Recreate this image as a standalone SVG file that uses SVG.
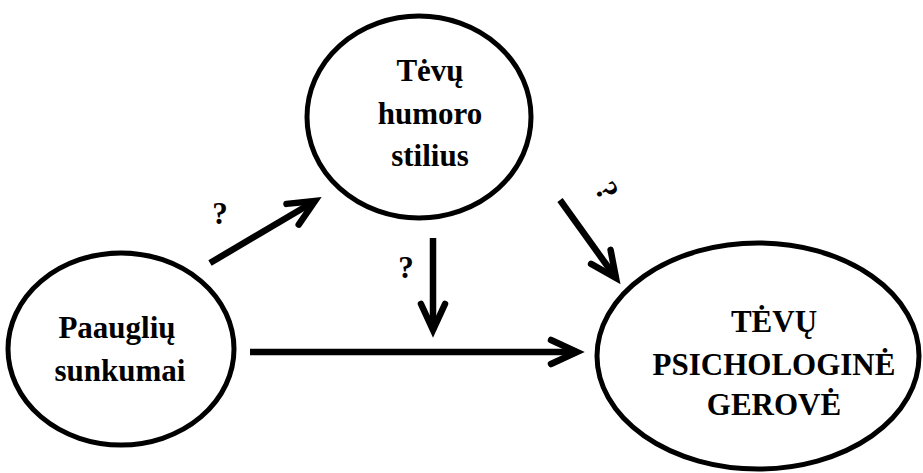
<svg xmlns="http://www.w3.org/2000/svg" width="923" height="473" viewBox="0 0 923 473">
<style>
.node{fill:#fff;stroke:#000;stroke-width:5}
text{font-family:'Liberation Serif','Times New Roman',Tinos,'DejaVu Serif',serif;font-weight:bold;fill:#000;text-anchor:middle}
.lbl{font-size:31px}
.q{font-size:31px}
.arr{stroke:#000;stroke-width:6.5;fill:none;marker-end:url(#head)}
</style>
<defs>
<marker id="head" markerUnits="userSpaceOnUse" markerWidth="40" markerHeight="40" viewBox="-30 -20 40 40" refX="0" refY="0" orient="auto" overflow="visible">
<path d="M-26,-12 L0,0 L-26,12" fill="none" stroke="#000" stroke-width="6.5" stroke-linecap="round" stroke-linejoin="miter"/>
</marker>
</defs>
<g id="connectors">
<line class="arr" x1="210" y1="263" x2="315" y2="201"/>
<line class="arr" x1="433" y1="238" x2="433" y2="330"/>
<line class="arr" x1="560" y1="200" x2="616" y2="278"/>
<line class="arr" x1="250" y1="352" x2="577" y2="352"/>
<text class="q" x="220" y="224">?</text>
<text class="q" x="406" y="278">?</text>
<text class="q" transform="translate(605,192) rotate(60)" x="0" y="8">?</text>
</g>
<g id="node-tevu-humoro">
<ellipse class="node" cx="419" cy="117" rx="112" ry="101"/>
<text class="lbl" x="430" y="81">Tėvų</text>
<text class="lbl" x="430" y="124">humoro</text>
<text class="lbl" x="430" y="166">stilius</text>
</g>
<g id="node-paaugliu">
<ellipse class="node" cx="121" cy="349" rx="113" ry="96"/>
<text class="lbl" x="117" y="338">Paauglių</text>
<text class="lbl" x="120" y="381">sunkumai</text>
</g>
<g id="node-gerove">
<ellipse class="node" cx="758" cy="356" rx="161" ry="113"/>
<text class="lbl" x="774" y="332">TĖVŲ</text>
<text class="lbl" x="774" y="375">PSICHOLOGINĖ</text>
<text class="lbl" x="774" y="415">GEROVĖ</text>
</g>
</svg>
